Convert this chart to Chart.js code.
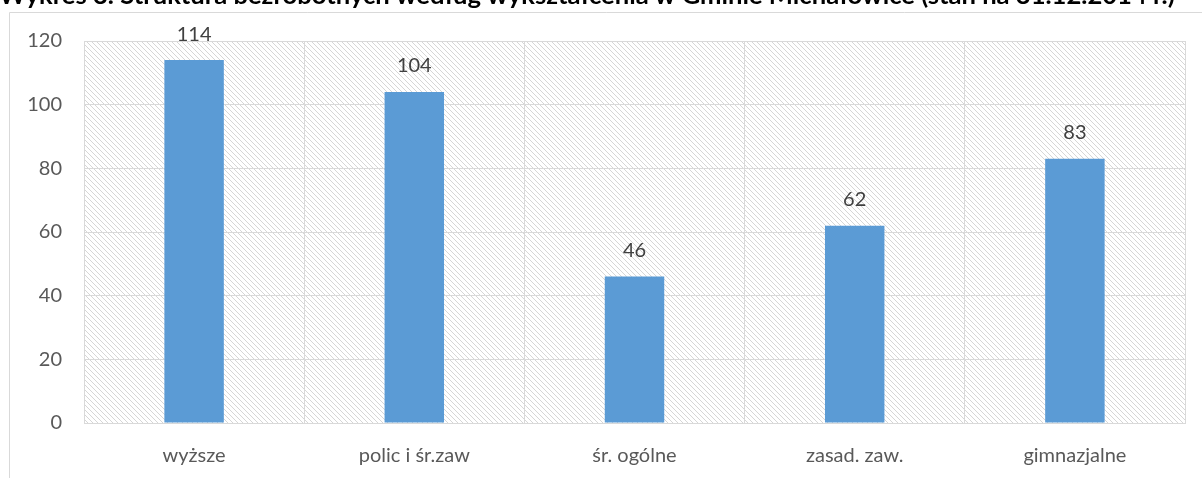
<!DOCTYPE html>
<html>
<head>
<meta charset="utf-8">
<script src="https://cdn.jsdelivr.net/npm/chart.js@4/dist/chart.umd.min.js"></script>
<style>
    html, body { margin: 0; padding: 0; background: #fff; overflow: hidden; }
    #wrap { position: relative; width: 1202px; height: 478px; }
</style>
</head>
<body>
<div id="wrap"><canvas id="chart" width="1202" height="478"></canvas></div>
<script>
// ===== DATA =====
const title = 'Wykres 3. Struktura bezrobotnych według wykształcenia w Gminie Michałowice (stan na 31.12.2014 r.)';
const categories = ['wyższe', 'polic i śr.zaw', 'śr. ogólne', 'zasad. zaw.', 'gimnazjalne'];
const values = [114, 104, 46, 62, 83];
const yTicks = [0, 20, 40, 60, 80, 100, 120];

const FONT = "Lato, 'Open Sans', sans-serif";
const FONT_SIZE = 20;

// hatched plot background (light grey diagonal lines)
function makeHatch() {
    const c = document.createElement('canvas');
    c.width = 5; c.height = 5;
    const g = c.getContext('2d');
    g.fillStyle = '#ffffff';
    g.fillRect(0, 0, 5, 5);
    g.fillStyle = '#d6d6d6';
    for (let i = 0; i < 5; i++) {
        g.fillRect(i, i, 1, 1);
    }
    return g.createPattern(c, 'repeat');
}

// frame, title and hatch behind everything
const backdrop = {
    id: 'backdrop',
    beforeDraw(chart) {
        const ctx = chart.ctx;
        const a = chart.chartArea;
        ctx.save();
        ctx.fillStyle = makeHatch();
        ctx.fillRect(a.left, a.top, a.right - a.left, a.bottom - a.top);

        ctx.strokeStyle = '#d9d9d9';
        ctx.lineWidth = 1;
        ctx.beginPath();
        ctx.moveTo(9.5, 480);
        ctx.lineTo(9.5, 12.5);
        ctx.lineTo(1210, 12.5);
        ctx.stroke();

        // title, only lower part visible at top of picture
        ctx.fillStyle = '#000000';
        ctx.font = 'bold 16px ' + FONT;
        const w = ctx.measureText(title).width;
        const size = 16 * 1176 / w;
        ctx.font = 'bold ' + size.toFixed(2) + 'px ' + FONT;
        ctx.textBaseline = 'alphabetic';
        ctx.textAlign = 'left';
        ctx.fillText(title, -1, 4);
        ctx.restore();
    }
};

// value labels above bars
const valueLabels = {
    id: 'valueLabels',
    afterDatasetsDraw(chart) {
        const ctx = chart.ctx;
        const meta = chart.getDatasetMeta(0);
        ctx.save();
        ctx.fillStyle = '#404040';
        ctx.font = FONT_SIZE + 'px ' + FONT;
        ctx.textAlign = 'center';
        ctx.textBaseline = 'middle';
        meta.data.forEach((bar, i) => {
            ctx.fillText(String(values[i]), bar.x, bar.y - 26);
        });
        ctx.restore();
    }
};

new Chart(document.getElementById('chart'), {
    type: 'bar',
    data: {
        labels: categories,
        datasets: [{
            data: values,
            backgroundColor: '#5b9bd5',
            borderWidth: 0,
            categoryPercentage: 1,
            barPercentage: 0.27
        }]
    },
    options: {
        responsive: false,
        animation: false,
        devicePixelRatio: 1,
        layout: {
            padding: { left: 9, right: 17, top: 41, bottom: 0 }
        },
        plugins: {
            legend: { display: false },
            tooltip: { enabled: false }
        },
        scales: {
            x: {
                offset: true,
                afterFit(scale) {
                    scale.height = 55;
                },
                grid: {
                    color: '#d9d9d9',
                    offset: true,
                    drawTicks: false
                },
                border: { color: '#d9d9d9' },
                ticks: {
                    color: '#595959',
                    font: { size: FONT_SIZE, family: FONT },
                    padding: 21,
                    maxRotation: 0
                }
            },
            y: {
                min: 0,
                max: 120,
                afterBuildTicks(scale) {
                    scale.ticks = yTicks.map(v => ({ value: v }));
                },
                afterFit(scale) {
                    scale.width = 75;
                },
                grid: {
                    color: '#d9d9d9',
                    drawTicks: false
                },
                border: { color: '#d9d9d9' },
                ticks: {
                    color: '#595959',
                    font: { size: FONT_SIZE, family: FONT },
                    padding: 22
                }
            }
        }
    },
    plugins: [backdrop, valueLabels]
});
</script>
</body>
</html>
